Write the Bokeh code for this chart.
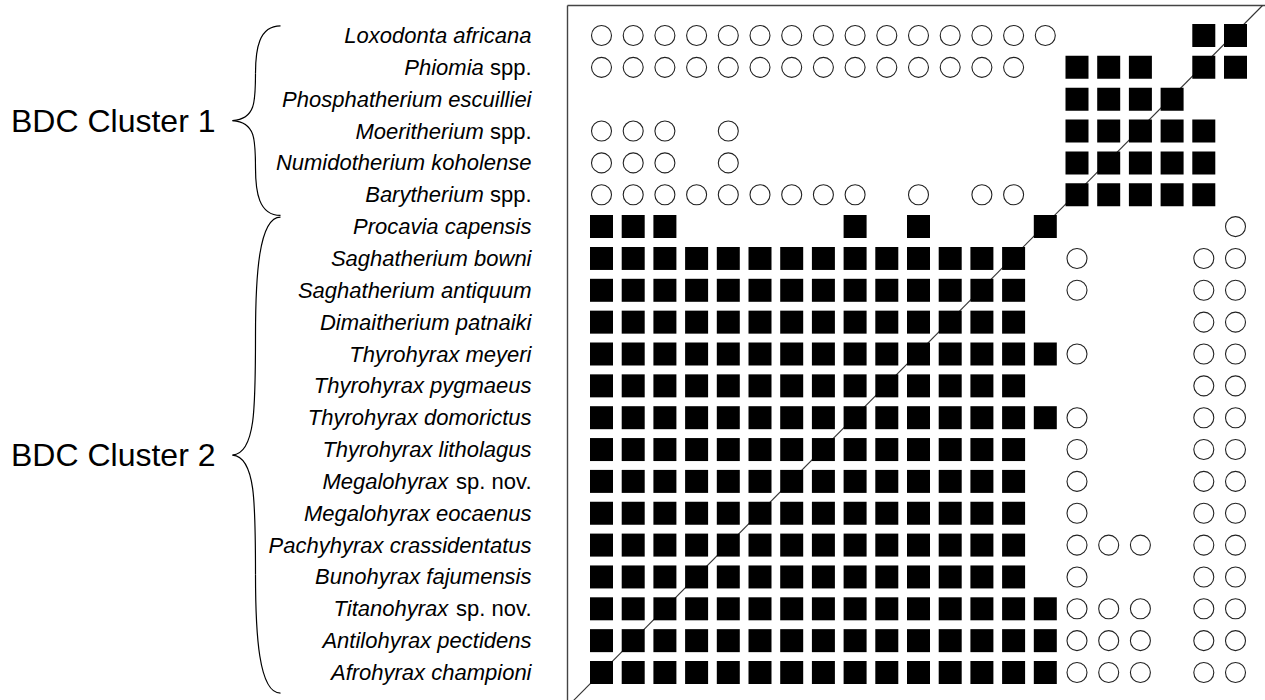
from bokeh.plotting import figure
from bokeh.models import Range1d
from bokeh.embed import file_html
from bokeh.resources import INLINE
from bokeh.core.properties import value

# ---------------- data ----------------
species_italic = [
    "Loxodonta africana", "Phiomia", "Phosphatherium escuilliei", "Moeritherium",
    "Numidotherium koholense", "Barytherium", "Procavia capensis", "Saghatherium bowni",
    "Saghatherium antiquum", "Dimaitherium patnaiki", "Thyrohyrax meyeri",
    "Thyrohyrax pygmaeus", "Thyrohyrax domorictus", "Thyrohyrax litholagus",
    "Megalohyrax", "Megalohyrax eocaenus", "Pachyhyrax crassidentatus",
    "Bunohyrax fajumensis", "Titanohyrax", "Antilohyrax pectidens", "Afrohyrax championi",
]
species_roman = [
    "", "spp.", "", "spp.", "", "spp.", "", "", "", "", "", "", "", "",
    "sp. nov.", "", "", "", "sp. nov.", "", "",
]
# S = filled square, O = open circle, . = empty
matrix = [
    "OOOOOOOOOOOOOOO....SS",
    "OOOOOOOOOOOOOO.SSS.SS",
    "...............SSSS..",
    "OOO.O..........SSSSS.",
    "OOO.O..........SSSSS.",
    "OOOOOOOOO.O.OO.SSSSS.",
    "SSS.....S.S...S.....O",
    "SSSSSSSSSSSSSS.O...OO",
    "SSSSSSSSSSSSSS.O...OO",
    "SSSSSSSSSSSSSS.....OO",
    "SSSSSSSSSSSSSSSO...OO",
    "SSSSSSSSSSSSSS.....OO",
    "SSSSSSSSSSSSSSSO...OO",
    "SSSSSSSSSSSSSS.O...OO",
    "SSSSSSSSSSSSSS.O...OO",
    "SSSSSSSSSSSSSS.O...OO",
    "SSSSSSSSSSSSSS.OOO.OO",
    "SSSSSSSSSSSSSS.O...OO",
    "SSSSSSSSSSSSSSSOOO.OO",
    "SSSSSSSSSSSSSSSOOO.OO",
    "SSSSSSSSSSSSSSSOOO.OO",
]
cluster_names = ["BDC Cluster 1", "BDC Cluster 2"]
cluster_first_row = [0, 6]
cluster_last_row = [5, 20]

# ---------------- layout ----------------
N = len(matrix)
W, H = 1265, 700
PX, PY = 31.7, 31.85        # pixels per cell
X0, Y0 = 601.0, 672.0       # canvas px of column 0 / bottom row


def dx(px):
    return (px - X0) / PX


def dy(py):
    return (Y0 - py) / PY


p = figure(width=W, height=H, output_backend="svg", toolbar_location=None,
           x_range=Range1d(dx(0), dx(W)), y_range=Range1d(dy(H), dy(0)),
           x_axis_type=None, y_axis_type=None, min_border=0,
           min_border_left=0, min_border_right=0, min_border_top=0, min_border_bottom=0,
           outline_line_color=None, background_fill_color="white",
           border_fill_color="white")
p.grid.visible = False

sq_x, sq_y, ci_x, ci_y = [], [], [], []
for i, row in enumerate(matrix):
    for j, ch in enumerate(row):
        if ch == "S":
            sq_x.append(j); sq_y.append(N - 1 - i)
        elif ch == "O":
            ci_x.append(j); ci_y.append(N - 1 - i)

# frame (left, top, diagonal)
fx0 = dx(567)
ftop = dy(5)
fright = dx(1262)
line_col = "#333333"
p.segment(x0=[fx0, fx0], y0=[fx0 - 1, ftop],
          x1=[fx0, fright + 1], y1=[ftop, ftop],
          line_color="#444444", line_width=1.4)
p.segment(x0=[fx0 - 0.5], y0=[fx0 - 0.5], x1=[fright], y1=[ftop],
          line_color=line_col, line_width=1.1)

p.scatter(sq_x, sq_y, marker="square", size=23, fill_color="black", line_color=None)
p.scatter(ci_x, ci_y, marker="circle", size=20, fill_color="white",
          line_color="#222222", line_width=1.1)

# species labels
ARIAL = {' ': 278, 's': 500, 'p': 556, '.': 278, 'n': 556, 'o': 556, 'v': 500}
FS = 22


def tw(s):
    return sum(ARIAL[c] for c in s) / 1000.0 * FS


lab_x = dx(531)
ys = [N - 1 - i for i in range(N)]
p.text(x=[lab_x] * N, y=ys, text=species_italic,
       x_offset=[-(tw(r) + tw(" ")) if r else 0 for r in species_roman],
       text_font=value("Liberation Sans"), text_font_style="italic",
       text_font_size=f"{FS}px", text_align="right", text_baseline="middle",
       text_color="black")
ri = [k for k, r in enumerate(species_roman) if r]
p.text(x=[lab_x] * len(ri), y=[ys[k] for k in ri], text=[species_roman[k] for k in ri],
       text_font=value("Liberation Sans"), text_font_size=f"{FS}px",
       text_align="right", text_baseline="middle", text_color="black")

# braces and cluster labels
xe, xv, xt = dx(280), dx(255), dx(232)
bx0, by0, bx1, by1, cx0, cy0, cx1, cy1 = ([] for _ in range(8))
mids = []
for a, b in zip(cluster_first_row, cluster_last_row):
    ytop = (N - 1 - a) + 0.3
    ybot = (N - 1 - b) - 0.65
    ym = (ytop + ybot) / 2
    mids.append(ym)
    h = (ytop - ybot) / 2
    for sgn, yend in ((1, ytop), (-1, ybot)):
        yq = ym + sgn * h / 2
        # end -> vertical
        bx0.append(xe); by0.append(yend); bx1.append(xv); by1.append(yq)
        cx0.append(xv + 0.1); cy0.append(yend); cx1.append(xv); cy1.append(yend - sgn * h * 0.25)
        # vertical -> tip
        bx0.append(xv); by0.append(yq); bx1.append(xt); by1.append(ym)
        cx0.append(xv); cy0.append(ym + sgn * h * 0.2); cx1.append(xv); cy1.append(ym + sgn * 0.05)
p.bezier(x0=bx0, y0=by0, x1=bx1, y1=by1, cx0=cx0, cy0=cy0, cx1=cx1, cy1=cy1,
         line_color="black", line_width=1.2)

p.text(x=[dx(215)] * len(cluster_names), y=mids, text=cluster_names,
       text_font=value("Liberation Sans"), text_font_size="32px",
       text_align="right", text_baseline="middle", text_color="black")

open("out.html", "w").write(file_html(p, INLINE))
